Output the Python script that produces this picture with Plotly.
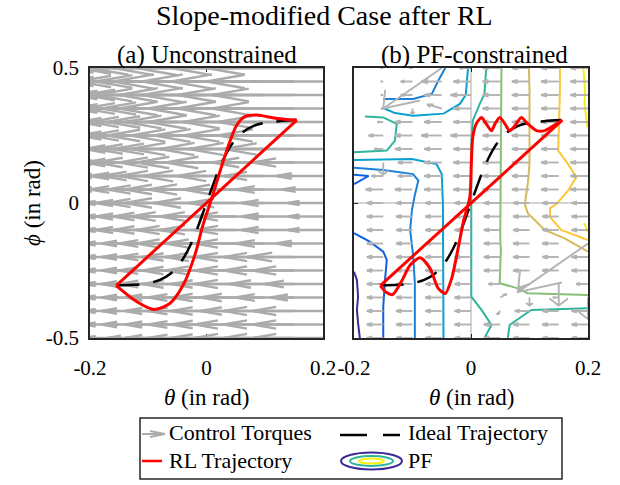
import plotly.graph_objects as go

W, H = 620, 485
FONT = "Liberation Serif"

# ---------------- data ----------------
theta_grid = [-0.2, -0.15, -0.1, -0.05, 0.0, 0.05, 0.1, 0.15, 0.2]
phi_grid = [0.5, 0.45, 0.4, 0.35, 0.3, 0.25, 0.2, 0.15, 0.1, 0.05, 0.0,
            -0.05, -0.1, -0.15, -0.2, -0.25, -0.3, -0.35, -0.4, -0.45, -0.5]

# (a) control torques, theta-component (rows = phi_grid, cols = theta_grid)
u_a = [
    [-0.06, -0.10, -0.14, -0.17, -0.20, -0.21, -0.22, -0.21, -0.20],
    [-0.06, -0.10, -0.14, -0.17, -0.19, -0.21, -0.21, -0.21, -0.20],
    [-0.05, -0.09, -0.13, -0.16, -0.19, -0.20, -0.21, -0.20, -0.19],
    [-0.05, -0.09, -0.13, -0.16, -0.18, -0.20, -0.20, -0.20, -0.19],
    [-0.05, -0.08, -0.12, -0.15, -0.17, -0.19, -0.20, -0.19, -0.18],
    [-0.04, -0.08, -0.12, -0.15, -0.17, -0.18, -0.19, -0.19, -0.18],
    [-0.04, -0.08, -0.11, -0.14, -0.16, -0.18, -0.18, -0.18, -0.17],
    [-0.04, -0.07, -0.11, -0.14, -0.15, -0.17, -0.17, -0.14, -0.12],
    [-0.04, -0.07, -0.10, -0.13, -0.15, -0.16, -0.15, -0.12, -0.08],
    [-0.04, -0.07, -0.10, -0.12, -0.14, -0.15, -0.14, -0.10, -0.07],
    [-0.04, -0.06, -0.09, -0.12, -0.14, -0.14, -0.13, -0.09, -0.06],
    [-0.04, -0.06, -0.09, -0.11, -0.13, -0.13, -0.12, -0.09, -0.06],
    [-0.04, -0.06, -0.09, -0.11, -0.12, -0.13, -0.12, -0.09, -0.06],
    [-0.04, -0.06, -0.08, -0.10, -0.12, -0.12, -0.12, -0.10, -0.08],
    [-0.04, -0.06, -0.08, -0.10, -0.11, -0.12, -0.12, -0.12, -0.13],
    [-0.04, -0.06, -0.08, -0.10, -0.11, -0.12, -0.12, -0.12, -0.12],
    [-0.04, -0.06, -0.08, -0.10, -0.11, -0.11, -0.12, -0.11, -0.10],
    [-0.04, -0.06, -0.08, -0.09, -0.10, -0.11, -0.11, -0.10, -0.09],
    [-0.04, -0.06, -0.08, -0.09, -0.10, -0.11, -0.11, -0.12, -0.12],
    [-0.04, -0.06, -0.08, -0.09, -0.10, -0.11, -0.12, -0.12, -0.12],
    [-0.04, -0.06, -0.07, -0.09, -0.10, -0.11, -0.12, -0.12, -0.12],
]
v_a = [[0.0] * len(theta_grid) for _ in phi_grid]

# (b) control torques under the PF constraint
u_b = [
    [-0.02, -0.004, -0.005, -0.10, -0.02, -0.03, -0.03, -0.03, -0.03],
    [-0.02, -0.004, -0.02, -0.035, -0.03, -0.03, -0.03, -0.03, -0.03],
    [-0.02, -0.004, -0.02, -0.03, -0.035, -0.03, -0.03, -0.03, -0.03],
    [-0.02, -0.004, 0.0, -0.025, -0.03, -0.03, -0.03, -0.03, -0.03],
    [-0.02, -0.01, -0.03, -0.03, -0.03, -0.03, -0.03, -0.03, -0.03],
    [-0.02, -0.025, -0.03, -0.035, -0.035, -0.03, -0.03, -0.03, -0.03],
    [-0.02, -0.015, -0.03, -0.03, -0.03, -0.03, -0.03, -0.03, -0.03],
    [-0.02, 0.0, -0.025, -0.03, -0.03, -0.03, -0.03, -0.03, -0.03],
    [-0.02, -0.02, -0.025, -0.03, -0.03, -0.03, -0.03, -0.03, -0.03],
    [-0.02, -0.03, -0.03, -0.03, -0.03, -0.03, -0.03, -0.03, -0.03],
    [-0.02, -0.028, -0.028, -0.028, -0.028, -0.028, -0.028, -0.028, -0.028],
    [-0.02, -0.028, -0.028, -0.028, -0.028, -0.028, -0.028, -0.028, -0.028],
    [-0.02, -0.028, -0.028, -0.028, -0.028, -0.028, -0.028, -0.028, -0.028],
    [-0.02, -0.028, -0.028, -0.028, -0.028, -0.028, -0.028, -0.028, -0.12],
    [-0.02, -0.028, -0.028, -0.028, -0.028, -0.028, -0.028, -0.028, -0.028],
    [-0.02, -0.028, -0.028, -0.028, -0.028, -0.028, -0.028, -0.028, -0.028],
    [-0.02, -0.028, -0.028, -0.028, -0.028, -0.02, -0.02, 0.0, -0.02],
    [-0.02, -0.028, -0.028, -0.028, -0.028, 0.01, 0.0, -0.01, 0.0],
    [-0.02, -0.028, -0.028, -0.028, -0.028, -0.005, -0.025, -0.028, -0.028],
    [-0.02, -0.028, -0.028, -0.028, -0.028, -0.028, -0.028, -0.028, -0.028],
    [-0.02, -0.028, -0.028, -0.028, -0.028, -0.028, -0.028, -0.028, -0.028],
]
v_b = [
    [0, 0, 0, -0.15, 0, 0, 0, 0, 0],
    [0, 0, 0, 0, 0, 0, 0, 0, 0],
    [0, 0, 0, 0, 0, 0, 0, 0, 0],
    [0, 0, -0.02, 0.015, 0, 0, 0, 0, 0],
    [0, 0, 0, 0, 0, 0, 0, 0, 0],
    [0, 0, 0, 0, 0, 0, 0, 0, 0],
    [0, 0, 0, 0, 0, 0, 0, 0, 0],
    [0, -0.045, 0, 0, 0, 0, 0, 0, 0],
    [0, 0, 0, 0, 0, 0, 0, 0, 0],
    [0, 0, 0, 0, 0, 0, 0, 0, 0],
    [0, 0, 0, 0, 0, 0, 0, 0, 0],
    [0, 0, 0, 0, 0, 0, 0, 0, 0],
    [0, 0, 0, 0, 0, 0, 0, 0, 0],
    [0, 0, 0, 0, 0, 0, 0, 0, -0.18],
    [0, 0, 0, 0, 0, 0, 0, 0, 0],
    [0, 0, 0, 0, 0, 0, 0, 0, 0],
    [0, 0, 0, 0, 0, 0, -0.015, -0.08, 0],
    [0, 0, 0, 0, 0, 0.012, -0.03, 0.0, -0.08],
    [0, 0, 0, 0, 0, -0.012, 0, 0, 0],
    [0, 0, 0, 0, 0, 0, 0, 0, 0],
    [0, 0, 0, 0, 0, 0, 0, 0, 0],
]

# ideal trajectory
ideal_theta = [-0.153, -0.125, -0.105, -0.08, -0.062, -0.045, -0.032, -0.02, -0.01, 0.0,
               0.01, 0.02, 0.032, 0.045, 0.062, 0.08, 0.105, 0.125, 0.154]
ideal_phi = [-0.305, -0.303, -0.299, -0.285, -0.262, -0.222, -0.175, -0.118, -0.06, 0.0,
             0.06, 0.118, 0.175, 0.222, 0.262, 0.285, 0.299, 0.303, 0.307]

# RL trajectory (a): straight leg and return loop
rl_a_line_theta = [-0.155, 0.155]
rl_a_line_phi = [-0.306, 0.307]
rl_a_loop_theta = [0.155, 0.121, 0.086, 0.066, 0.052, 0.040, 0.023, 0.009, -0.006,
                   -0.020, -0.040, -0.063, -0.091, -0.120, -0.155]
rl_a_loop_phi = [0.307, 0.313, 0.326, 0.320, 0.289, 0.227, 0.116, 0.017, -0.081,
                 -0.193, -0.304, -0.372, -0.394, -0.365, -0.306]

# RL trajectory (b)
rl_b_line_theta = [-0.155, 0.156]
rl_b_line_phi = [-0.306, 0.307]
rl_b_loop_theta = [0.156, 0.126, 0.112, 0.097, 0.086, 0.075, 0.066, 0.058, 0.049, 0.041,
                   0.035, 0.026, 0.018, 0.009, 0.003, 0.0005, -0.002, -0.013, -0.022,
                   -0.033, -0.044, -0.056, -0.070, -0.087, -0.104, -0.119, -0.134,
                   -0.145, -0.155]
rl_b_loop_phi = [0.307, 0.268, 0.268, 0.293, 0.317, 0.286, 0.268, 0.293, 0.317, 0.293,
                 0.268, 0.293, 0.317, 0.293, 0.243, 0.144, 0.021, -0.069, -0.168,
                 -0.279, -0.335, -0.316, -0.242, -0.203, -0.230, -0.291, -0.339,
                 -0.331, -0.306]

# PF contour lines: (level, theta, phi)
pf_segments = [
    (1, [-0.2, -0.195, -0.193, -0.195, -0.193, -0.19],
        [-0.255, -0.285, -0.347, -0.396, -0.446, -0.5]),
    (2, [-0.2, -0.173, -0.150, -0.144, -0.147, -0.150, -0.150],
        [-0.112, -0.143, -0.180, -0.211, -0.285, -0.384, -0.5]),
    (2, [-0.2, -0.175, -0.2], [0.105, 0.100, 0.07]),
    (3, [-0.044, -0.056, -0.067, -0.099, -0.15],
        [0.5, 0.453, 0.404, 0.385, 0.385]),
    (3, [-0.2, -0.150, -0.099, -0.090, -0.096, -0.101, -0.104, -0.099, -0.096, -0.096],
        [0.131, 0.122, 0.107, 0.083, 0.030, -0.026, -0.1, -0.193, -0.296, -0.5]),
    (4, [-0.005, -0.007, -0.009, -0.019, -0.047, -0.099, -0.130, -0.150],
        [0.5, 0.452, 0.4, 0.367, 0.331, 0.323, 0.333, 0.352]),
    (4, [-0.2, -0.101, -0.059, -0.050, -0.048, -0.048, -0.047],
        [0.159, 0.163, 0.144, 0.107, -0.004, -0.211, -0.5]),
    (5, [-0.181, -0.150, -0.127, -0.130, -0.144, -0.2],
        [0.320, 0.317, 0.293, 0.231, 0.194, 0.188]),
    (5, [0.026, 0.023, 0.015, 0.003, 0.0005, 0.0005, 0.0005, 0.018, 0.035, 0.023],
        [0.5, 0.404, 0.367, 0.305, 0.206, -0.004, -0.347, -0.396, -0.452, -0.5]),
    (5, [0.063, 0.066, 0.103, 0.2], [-0.5, -0.452, -0.396, -0.39]),
    (6, [0.052, 0.051, 0.050, 0.050, 0.051, 0.049, 0.080, 0.097, 0.2],
        [0.5, 0.2, -0.004, -0.137, -0.174, -0.297, -0.316, -0.334, -0.341]),
    (7, [0.099, 0.100, 0.100, 0.097, 0.092, 0.097, 0.126, 0.160, 0.2],
        [0.5, 0.416, 0.144, 0.07, -0.004, -0.038, -0.1, -0.131, -0.18]),
    (8, [0.152, 0.152, 0.149, 0.166, 0.180, 0.166, 0.146, 0.135, 0.135, 0.154, 0.2],
        [0.5, 0.416, 0.194, 0.144, 0.095, 0.046, -0.004, -0.02, -0.051, -0.1, -0.137]),
    (9, [0.192, 0.195, 0.194, 0.199], [0.5, 0.416, 0.367, 0.280]),
    (9, [0.194, 0.199], [-0.075, -0.106]),
]

x_ticks = [-0.2, 0.0, 0.2]
x_ticktext = ["-0.2", "0", "0.2"]
y_ticks = [-0.5, 0.0, 0.5]
y_ticktext = ["-0.5", "0", "0.5"]

# ---------------- styles ----------------
pf_colors = {1: "#3b2a98", 2: "#0f5fe0", 3: "#1a80d8", 4: "#0aa0d0", 5: "#2fb59c",
             6: "#88bf76", 7: "#d6ba5a", 8: "#fdc734", 9: "#f5f010"}
GRAY_A = "#ababab"
GRAY_B = "#b3b3b3"


def quiver_xy(us, vs, alpha=0.33, beta=0.33):
    xs, ys = [], []
    for i, phi in enumerate(phi_grid):
        for j, th in enumerate(theta_grid):
            u, v = us[i][j], vs[i][j]
            x1, y1 = th + u, phi + v
            xs += [th, x1, None]
            ys += [phi, y1, None]
            xs += [x1 - alpha * (u + beta * v), x1, x1 - alpha * (u - beta * v), None]
            ys += [y1 - alpha * (v - beta * u), y1, y1 - alpha * (v + beta * u), None]
    return xs, ys


fig = go.Figure()

# ----- panel (a)
qx, qy = quiver_xy(u_a, v_a, beta=0.38)
fig.add_trace(go.Scatter(x=qx, y=qy, mode="lines", line=dict(color=GRAY_A, width=2.4),
                         xaxis="x", yaxis="y", showlegend=False, hoverinfo="skip"))
fig.add_trace(go.Scatter(x=ideal_theta, y=ideal_phi, mode="lines",
                         line=dict(color="black", width=2.5, dash="22px,14px", shape="spline"),
                         xaxis="x", yaxis="y", showlegend=False))
fig.add_trace(go.Scatter(x=rl_a_line_theta, y=rl_a_line_phi, mode="lines",
                         line=dict(color="#ff0000", width=3),
                         xaxis="x", yaxis="y", showlegend=False))
fig.add_trace(go.Scatter(x=rl_a_loop_theta, y=rl_a_loop_phi, mode="lines",
                         line=dict(color="#ff0000", width=3, shape="spline", smoothing=0.8),
                         xaxis="x", yaxis="y", showlegend=False))

# ----- panel (b)
for lvl, th, ph in pf_segments:
    fig.add_trace(go.Scatter(x=th, y=ph, mode="lines",
                             line=dict(color=pf_colors[lvl], width=2),
                             xaxis="x2", yaxis="y2", showlegend=False, hoverinfo="skip"))
qx, qy = quiver_xy(u_b, v_b, beta=0.6)
fig.add_trace(go.Scatter(x=qx, y=qy, mode="lines", line=dict(color=GRAY_B, width=1.9),
                         xaxis="x2", yaxis="y2", showlegend=False, hoverinfo="skip"))
fig.add_trace(go.Scatter(x=ideal_theta, y=ideal_phi, mode="lines",
                         line=dict(color="black", width=2.5, dash="22px,14px", shape="spline"),
                         xaxis="x2", yaxis="y2", showlegend=False))
fig.add_trace(go.Scatter(x=rl_b_line_theta, y=rl_b_line_phi, mode="lines",
                         line=dict(color="#ff0000", width=3),
                         xaxis="x2", yaxis="y2", showlegend=False))
fig.add_trace(go.Scatter(x=rl_b_loop_theta, y=rl_b_loop_phi, mode="lines",
                         line=dict(color="#ff0000", width=3, shape="spline", smoothing=0.7),
                         xaxis="x2", yaxis="y2", showlegend=False))


def px(x):
    return x / W


def py(y):
    return 1 - y / H


axis_common = dict(showgrid=False, zeroline=False, showline=True, mirror="ticks",
                   linecolor="#262626", linewidth=1.8, ticks="inside", ticklen=4,
                   tickcolor="#262626", tickwidth=1, automargin=False,
                   tickfont=dict(family=FONT, size=21, color="black"), layer="below traces")

fig.update_layout(
    width=W, height=H, margin=dict(l=0, r=0, t=0, b=0, autoexpand=False),
    paper_bgcolor="white", plot_bgcolor="white",
    font=dict(family=FONT, color="black"),
    xaxis=dict(axis_common, domain=[px(90), px(323)], range=[-0.2, 0.2],
               tickvals=x_ticks, ticktext=x_ticktext, anchor="y", ticklabelstandoff=10),
    yaxis=dict(axis_common, domain=[py(338), py(68)], range=[-0.5, 0.5],
               tickvals=y_ticks, ticktext=y_ticktext, anchor="x", ticklabelstandoff=5),
    xaxis2=dict(axis_common, domain=[px(354), px(588)], range=[-0.2, 0.2],
                tickvals=x_ticks, ticktext=x_ticktext, anchor="y2", ticklabelstandoff=10,
                zeroline=True, zerolinecolor="#d4d4d4", zerolinewidth=1.5),
    yaxis2=dict(axis_common, domain=[py(338), py(68)], range=[-0.5, 0.5],
                tickvals=y_ticks, showticklabels=False, anchor="x2",
                zeroline=True, zerolinecolor="#d4d4d4", zerolinewidth=1.5),
)

ann = []


def text(s, x, y, size, xanchor="center", angle=0):
    ann.append(dict(text=s, x=px(x), y=py(y), xref="paper", yref="paper", showarrow=False,
                    xanchor=xanchor, yanchor="middle", textangle=angle,
                    font=dict(family=FONT, size=size, color="black")))


text("Slope-modified Case after RL", 324, 16, 28)
text("(a) Unconstrained", 206.5, 55, 25)
text("(b) PF-constrained", 474, 55, 25)
text("<i>θ</i> (in rad)", 206.5, 397, 23)
text("<i>θ</i> (in rad)", 471, 397, 23)
text("<i>ϕ</i> (in rad)", 32, 203, 23, angle=-90)
text("Control Torques", 167, 432, 22, xanchor="left")
text("RL Trajectory", 167, 460, 22, xanchor="left")
text("Ideal Trajectory", 406, 432, 22, xanchor="left")
text("PF", 406, 460, 22, xanchor="left")
fig.update_layout(annotations=ann)

shapes = []


def seg(x0, y0, x1, y1, color, width, dash="solid"):
    shapes.append(dict(type="line", xref="paper", yref="paper", x0=px(x0), y0=py(y0),
                       x1=px(x1), y1=py(y1), line=dict(color=color, width=width, dash=dash)))


def ell(x0, y0, x1, y1, color, width):
    shapes.append(dict(type="circle", xref="paper", yref="paper", x0=px(x0), y0=py(y1),
                       x1=px(x1), y1=py(y0), line=dict(color=color, width=width)))


shapes.append(dict(type="rect", xref="paper", yref="paper", x0=px(140), y0=py(479),
                   x1=px(562), y1=py(418), line=dict(color="#262626", width=1.5),
                   fillcolor="white", layer="below"))
seg(142, 434, 165, 434, GRAY_A, 2)
seg(165, 434, 150, 431, GRAY_A, 2)
seg(165, 434, 150, 437, GRAY_A, 2)
seg(142, 461, 162, 461, "#ff0000", 2.5)
seg(340, 435, 367, 435, "black", 2.5)
seg(383, 435, 400, 435, "black", 2.5)
ell(341, 452.5, 402, 469.5, pf_colors[1], 2)
ell(350, 456, 393, 466, pf_colors[5], 2)
ell(359, 458.5, 384, 463.5, pf_colors[9], 2)
fig.update_layout(shapes=shapes)

fig.write_html("out.html")
